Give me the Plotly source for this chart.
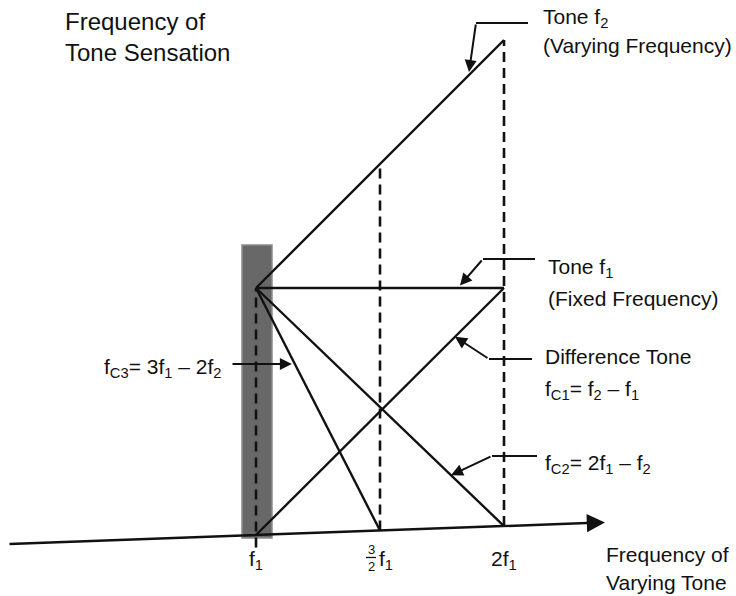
import plotly.graph_objects as go

# Frequencies expressed in units of the fixed tone f1
F1 = 1.0
sweep_f2 = [1.0, 1.5, 2.0]          # varying tone f2 from f1 to 2f1
tick_values = [1.0, 1.5, 2.0]
tick_labels = ["f<sub>1</sub>", "3/2 f<sub>1</sub>", "2f<sub>1</sub>"]

# Sensation frequencies at the ends of the sweep
sweep_ends = [sweep_f2[0], sweep_f2[-1]]
tone_f2 = [f for f in sweep_ends]                    # f2
tone_f1 = [F1, F1]                                   # f1 (fixed)
diff_c1 = [f - F1 for f in sweep_ends]               # fC1 = f2 - f1
diff_c2 = [2 * F1 - f for f in sweep_ends]           # fC2 = 2f1 - f2
c3_x = [1.0, 1.5]
diff_c3 = [3 * F1 - 2 * f for f in c3_x]             # fC3 = 3f1 - 2f2

# The hand-drawn frequency axis rises slightly to the right
AXIS_Y0 = -0.032
AXIS_TILT = 0.036
AXIS_END = 2.407


def axis_y(x):
    return AXIS_Y0 + AXIS_TILT * x


def on_axis(xs, ys):
    # lines that reach zero end on the drawn axis
    return [axis_y(x) if y <= 0 else y for x, y in zip(xs, ys)]


# page layout helpers (pixels -> plot units)
W, H = 736, 596
X0_PX, Y0_PX, UNIT_PX = 8, 536, 248


def px(x):
    return (x - X0_PX) / UNIT_PX


def py(y):
    return (Y0_PX - y) / UNIT_PX


FONT = "Liberation Sans, Arial, Helvetica, sans-serif"
BLACK = "#111111"
LW = 2.4

fig = go.Figure()


def seg(xs, ys, dash=None, width=LW):
    fig.add_trace(go.Scatter(
        x=xs, y=ys, mode="lines", hoverinfo="skip", showlegend=False,
        line=dict(color=BLACK, width=width, dash=dash)))


# dashed verticals at f1, 3/2 f1 and 2f1 up to the tone f2 line
for xv in sweep_f2:
    bottom = axis_y(xv) - (0.05 if xv == sweep_f2[0] else 0)
    seg([xv, xv], [bottom, xv], dash="10px,6px", width=2.6)

seg(sweep_ends, tone_f2)
seg(sweep_ends, tone_f1)
c1_pts = on_axis(sweep_ends, diff_c1)
c2_pts = on_axis(sweep_ends, diff_c2)
c3_pts = on_axis(c3_x, diff_c3)
seg(sweep_ends, c1_pts)
seg(sweep_ends, c2_pts)
seg(c3_x, c3_pts)

# shaded band around f1
fig.add_shape(type="rect", xref="x", yref="y", layer="below",
              x0=px(242), x1=px(272), y0=axis_y(1.0) - 0.012, y1=py(245),
              fillcolor="#686868", line=dict(color="#8c8c8c", width=1.5))

annotations = []

# frequency axis with arrow
annotations.append(dict(
    x=AXIS_END, y=axis_y(AXIS_END), ax=0.0, ay=axis_y(0.0),
    xref="x", yref="y", axref="x", ayref="y", text="", showarrow=True,
    arrowhead=2, arrowsize=1.45, arrowwidth=2.5, arrowcolor=BLACK, standoff=0))


def leader(start_px, elbow_px, tip):
    fig.add_trace(go.Scatter(
        x=[px(start_px[0]), px(elbow_px[0])], y=[py(start_px[1]), py(elbow_px[1])],
        mode="lines", hoverinfo="skip", showlegend=False,
        line=dict(color=BLACK, width=2)))
    annotations.append(dict(
        x=tip[0], y=tip[1], ax=px(elbow_px[0]), ay=py(elbow_px[1]),
        xref="x", yref="y", axref="x", ayref="y", text="", showarrow=True,
        arrowhead=2, arrowsize=1.2, arrowwidth=2, arrowcolor=BLACK, standoff=0))


def line_y(xs, ys, x):
    t = (x - xs[0]) / (xs[1] - xs[0])
    return ys[0] + t * (ys[1] - ys[0])


x_tip = px(469)
leader((528, 23), (476, 23), (x_tip, line_y(sweep_ends, tone_f2, x_tip) + 0.012))
x_tip = px(460)
leader((535, 259), (483, 259), (x_tip, line_y(sweep_ends, tone_f1, x_tip) + 0.01))
x_tip = px(455)
leader((532, 359), (489, 359), (x_tip, line_y(sweep_ends, c1_pts, x_tip)))
x_tip = px(451)
leader((537, 456), (492, 456), (x_tip, line_y(sweep_ends, c2_pts, x_tip)))

# fC3 pointer: horizontal arrow onto the fC3 line
y_c3 = py(364)
x_c3 = c3_x[0] + (y_c3 - c3_pts[0]) / (c3_pts[1] - c3_pts[0]) * (c3_x[1] - c3_x[0])
annotations.append(dict(
    x=x_c3 - 0.012, y=y_c3, ax=px(231), ay=y_c3,
    xref="x", yref="y", axref="x", ayref="y", text="", showarrow=True,
    arrowhead=2, arrowsize=1.2, arrowwidth=2, arrowcolor=BLACK, standoff=0))


def label(text, x_px, y_px, size=21, xanchor="left"):
    annotations.append(dict(
        x=px(x_px), y=py(y_px), xref="x", yref="y", text=text, showarrow=False,
        xanchor=xanchor, yanchor="middle", align="left",
        font=dict(family=FONT, size=size, color=BLACK)))


label("Frequency of", 63, 21, size=24)
label("Tone Sensation", 63, 52, size=24)
label("Tone f<sub>2</sub>", 541, 18)
label("(Varying Frequency)", 541, 45)
label("Tone f<sub>1</sub>", 546, 268)
label("(Fixed Frequency)", 546, 298)
label("Difference Tone", 543, 356)
label("f<sub>C1</sub>= f<sub>2</sub> – f<sub>1</sub>", 543, 390)
label("f<sub>C2</sub>= 2f<sub>1</sub> – f<sub>2</sub>", 543, 464)
label("f<sub>C3</sub>= 3f<sub>1</sub> – 2f<sub>2</sub>", 102, 368)
label("Frequency of", 604, 554)
label("Varying Tone", 604, 582)

# tick labels under the axis
tick_y = 560
for v, t in zip(tick_values, tick_labels):
    if v == 1.5:
        # stacked 3/2 fraction followed by f1
        annotations.append(dict(x=v, y=py(549), xref="x", yref="y", text="3",
                                showarrow=False, xshift=-9, font=dict(family=FONT, size=13, color=BLACK)))
        annotations.append(dict(x=v, y=py(566), xref="x", yref="y", text="2",
                                showarrow=False, xshift=-9, font=dict(family=FONT, size=13, color=BLACK)))
        fig.add_shape(type="line", xref="x", yref="y", x0=v - 14 / UNIT_PX, x1=v - 4 / UNIT_PX,
                      y0=py(557.5), y1=py(557.5), line=dict(color=BLACK, width=1.3))
        annotations.append(dict(x=v, y=py(tick_y), xref="x", yref="y", text="f<sub>1</sub>",
                                showarrow=False, xshift=6, font=dict(family=FONT, size=21, color=BLACK)))
    else:
        annotations.append(dict(x=v, y=py(tick_y), xref="x", yref="y", text=t,
                                showarrow=False, font=dict(family=FONT, size=21, color=BLACK)))

fig.update_layout(
    width=W, height=H, margin=dict(l=0, r=0, t=0, b=0),
    paper_bgcolor="white", plot_bgcolor="white",
    annotations=annotations, showlegend=False,
    xaxis=dict(range=[px(0), px(W)], visible=False, fixedrange=True),
    yaxis=dict(range=[py(H), py(0)], visible=False, fixedrange=True),
)

fig.write_html("out.html")
